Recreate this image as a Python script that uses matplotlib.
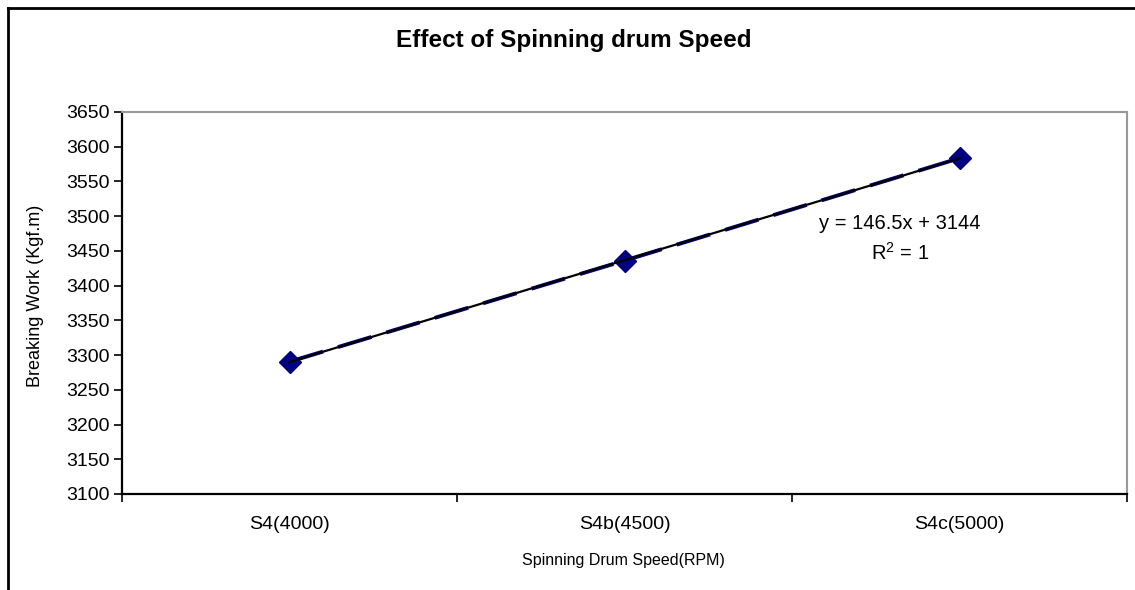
import matplotlib.pyplot as plt
import numpy as np
from matplotlib.lines import Line2D

plt.rcParams['font.family'] = ['Liberation Sans', 'DejaVu Sans']

### DONNEES
categories = ['S4(4000)', 'S4b(4500)', 'S4c(5000)']
travail = [3290.5, 3436, 3583.5]  # Breaking Work (Kgf.m)
y_ticks = [3100, 3150, 3200, 3250, 3300, 3350, 3400, 3450, 3500, 3550, 3600, 3650]
equation = 'y = 146.5x + 3144'
r2 = '$\\mathregular{R^2}$ = 1'

### FIGURE
fig = plt.figure(figsize=(11.35, 5.9), dpi=100)
ax = fig.add_axes([122/1135, 1-494/590, (1127-122)/1135, (494-112)/590])

x = np.arange(len(categories))
ax.plot(x, travail, color='#000080', lw=2.8, ls=(0, (9, 4)), marker='D', ms=11,
        mfc='#000080', mec='#000080', zorder=3)

# droite de tendance (x commence a 1 comme dans Excel)
coef = np.polyfit(x + 1, travail, 1)
ax.plot(x, np.polyval(coef, x + 1), color='black', lw=1.6, zorder=4)

ax.set_xlim(-0.5, 2.5)
ax.set_ylim(3100, 3650)
ax.set_yticks(y_ticks)
ax.set_xticks(x)
ax.set_xticklabels(categories)
ax.set_xticks([-0.5, 0.5, 1.5, 2.5], minor=True)
ax.tick_params(axis='x', which='major', length=0, pad=16, labelsize=14)
ax.tick_params(axis='x', which='minor', length=6, width=1.2, direction='out')
ax.tick_params(axis='y', length=6, width=1.2, direction='out', labelsize=14, pad=3)

for s in ['left', 'bottom']:
    ax.spines[s].set_linewidth(1.6)
for s in ['top', 'right']:
    ax.spines[s].set_color('#999999')
    ax.spines[s].set_linewidth(1.5)

fig.text(623/1135, 1-560/590, 'Spinning Drum Speed(RPM)', ha='center', va='center',
         fontsize=11.5)
fig.text(36/1135, 1-296/590, 'Breaking Work (Kgf.m)', ha='center', va='center',
         rotation=90, fontsize=13)

ax.text(1.822, 3489, equation, ha='center', va='center', fontsize=14.5)
ax.text(1.822, 3447, r2, ha='center', va='center', fontsize=14.5)

fig.text(574/1135, 1-41/590, 'Effect of Spinning drum Speed', ha='center', va='center',
         fontsize=17.5, fontweight='bold')

# cadre exterieur
fig.add_artist(Line2D([8/1135, 1], [1-8/590, 1-8/590], color='black', lw=2))
fig.add_artist(Line2D([8/1135, 8/1135], [0, 1-8/590], color='black', lw=2))

fig.savefig('out.png', dpi=100, facecolor='white')
